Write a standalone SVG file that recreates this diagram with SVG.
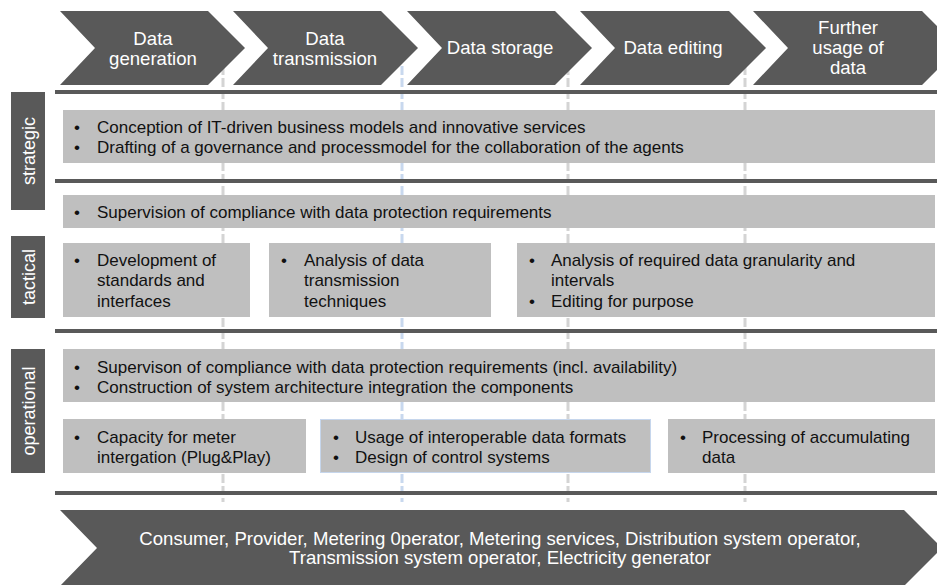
<svg xmlns="http://www.w3.org/2000/svg" width="937" height="585" viewBox="0 0 937 585">
  <style>
    .chev { fill: #595959; }
    .chev-t { font-family: "Liberation Sans", Arial, sans-serif; font-size: 18.6px; fill: #ffffff; text-anchor: middle; }
    .bar { fill: #595959; }
    .lvl { fill: #595959; }
    .lvl-t { font-family: "Liberation Sans", Arial, sans-serif; font-size: 18px; fill: #ffffff; text-anchor: middle; }
    .box { fill: #bfbfbf; }
    .box-b { fill: #bfbfbf; stroke: #c6d6ec; stroke-width: 1; }
    .t { font-family: "Liberation Sans", Arial, sans-serif; font-size: 17px; fill: #111111; }
    .guide { stroke: #d4d4d4; stroke-width: 3; stroke-dasharray: 9 3; fill: none; }
    .guide-b { stroke: #c8d8ee; stroke-width: 3; stroke-dasharray: 9 3; fill: none; }
    .foot-t { font-family: "Liberation Sans", Arial, sans-serif; font-size: 18.6px; fill: #ffffff; text-anchor: middle; }
  </style>

  <rect width="937" height="585" fill="#ffffff"/>

  <!-- vertical phase guides -->
  <g id="connectors">
    <line class="guide" x1="223" y1="66" x2="223" y2="502"/>
    <line class="guide-b" x1="402" y1="66" x2="402" y2="502"/>
    <line class="guide" x1="568" y1="66" x2="568" y2="502"/>
    <line class="guide" x1="745" y1="66" x2="745" y2="502"/>
  </g>

  <!-- phase chevrons -->
  <g id="phase-generation">
    <path class="chev" d="M60,11 L208,11 L245,48 L208,85 L60,85 L95,48 Z"/>
    <text class="chev-t" x="153" y="45">Data</text>
    <text class="chev-t" x="153" y="64.5">generation</text>
  </g>
  <g id="phase-transmission">
    <path class="chev" d="M233,11 L381,11 L418,48 L381,85 L233,85 L268,48 Z"/>
    <text class="chev-t" x="325" y="45">Data</text>
    <text class="chev-t" x="325" y="64.5">transmission</text>
  </g>
  <g id="phase-storage">
    <path class="chev" d="M407,11 L555,11 L592,48 L555,85 L407,85 L442,48 Z"/>
    <text class="chev-t" x="500" y="54">Data storage</text>
  </g>
  <g id="phase-editing">
    <path class="chev" d="M580,11 L729,11 L766,48 L729,85 L580,85 L615,48 Z"/>
    <text class="chev-t" x="673" y="54">Data editing</text>
  </g>
  <g id="phase-usage">
    <path class="chev" d="M753,11 L922,11 L959,48 L922,85 L753,85 L788,48 Z"/>
    <text class="chev-t" x="848" y="34">Further</text>
    <text class="chev-t" x="848" y="54">usage of</text>
    <text class="chev-t" x="848" y="74">data</text>
  </g>

  <!-- level separators -->
  <g id="separators">
    <rect class="bar" x="55" y="90" width="882" height="4"/>
    <rect class="bar" x="55" y="179" width="882" height="4"/>
    <rect class="bar" x="55" y="329" width="882" height="4"/>
    <rect class="bar" x="55" y="491" width="882" height="4"/>
  </g>

  <!-- level labels -->
  <g id="level-strategic">
    <rect class="lvl" x="11" y="92" width="34" height="118"/>
    <text class="lvl-t" transform="translate(34.5,151) rotate(-90)">strategic</text>
  </g>
  <g id="level-tactical">
    <rect class="lvl" x="11" y="236" width="34" height="82"/>
    <text class="lvl-t" transform="translate(34.5,277) rotate(-90)">tactical</text>
  </g>
  <g id="level-operational">
    <rect class="lvl" x="11" y="349" width="34" height="124"/>
    <text class="lvl-t" transform="translate(34.5,411) rotate(-90)">operational</text>
  </g>

  <!-- strategic tasks -->
  <g id="strategic-tasks">
    <rect class="box" x="63" y="110" width="872" height="53"/>
    <text class="t" x="74" y="132.5">•</text>
    <text class="t" x="97" y="132.5">Conception of IT-driven business models and innovative services</text>
    <text class="t" x="74" y="153">•</text>
    <text class="t" x="97" y="153">Drafting of a governance and processmodel for the collaboration of the agents</text>
  </g>

  <!-- tactical tasks -->
  <g id="tactical-supervision">
    <rect class="box" x="63" y="195" width="872" height="33"/>
    <text class="t" x="74" y="217.5">•</text>
    <text class="t" x="97" y="217.5">Supervision of compliance with data protection requirements</text>
  </g>
  <g id="tactical-standards">
    <rect class="box" x="63" y="243" width="187" height="74"/>
    <text class="t" x="74" y="265.5">•</text>
    <text class="t" x="97" y="265.5">Development of</text>
    <text class="t" x="97" y="286">standards and</text>
    <text class="t" x="97" y="306.5">interfaces</text>
  </g>
  <g id="tactical-transmission">
    <rect class="box" x="269" y="243" width="222" height="74"/>
    <text class="t" x="281" y="265.5">•</text>
    <text class="t" x="304" y="265.5">Analysis of data</text>
    <text class="t" x="304" y="286">transmission</text>
    <text class="t" x="304" y="306.5">techniques</text>
  </g>
  <g id="tactical-granularity">
    <rect class="box" x="517" y="243" width="418" height="74"/>
    <text class="t" x="529" y="265.5">•</text>
    <text class="t" x="551" y="265.5">Analysis of required data granularity and</text>
    <text class="t" x="551" y="286">intervals</text>
    <text class="t" x="529" y="306.5">•</text>
    <text class="t" x="551" y="306.5">Editing for purpose</text>
  </g>

  <!-- operational tasks -->
  <g id="operational-common">
    <rect class="box" x="63" y="349" width="872" height="53"/>
    <text class="t" x="74" y="372.5">•</text>
    <text class="t" x="97" y="372.5">Supervison of compliance with data protection requirements (incl. availability)</text>
    <text class="t" x="74" y="392.5">•</text>
    <text class="t" x="97" y="392.5">Construction of system architecture integration the components</text>
  </g>
  <g id="operational-meter">
    <rect class="box" x="63" y="419" width="243" height="54"/>
    <text class="t" x="74" y="442.5">•</text>
    <text class="t" x="97" y="442.5">Capacity for meter</text>
    <text class="t" x="97" y="462.5">intergation (Plug&amp;Play)</text>
  </g>
  <g id="operational-formats">
    <rect class="box-b" x="320.5" y="419.5" width="330" height="53"/>
    <text class="t" x="333" y="442.5">•</text>
    <text class="t" x="355" y="442.5">Usage of interoperable data formats</text>
    <text class="t" x="333" y="462.5">•</text>
    <text class="t" x="355" y="462.5">Design of control systems</text>
  </g>
  <g id="operational-processing">
    <rect class="box" x="668" y="419" width="267" height="54"/>
    <text class="t" x="680" y="442.5">•</text>
    <text class="t" x="702" y="442.5">Processing of accumulating</text>
    <text class="t" x="702" y="462.5">data</text>
  </g>

  <!-- stakeholders -->
  <g id="stakeholders">
    <path class="chev" d="M60,510 L904,510 L942,548 L904,586 L60,586 L97,548 Z"/>
    <text class="foot-t" x="500" y="544.5">Consumer, Provider, Metering 0perator, Metering services, Distribution system operator,</text>
    <text class="foot-t" x="500" y="563.5">Transmission system operator, Electricity generator</text>
  </g>
</svg>
